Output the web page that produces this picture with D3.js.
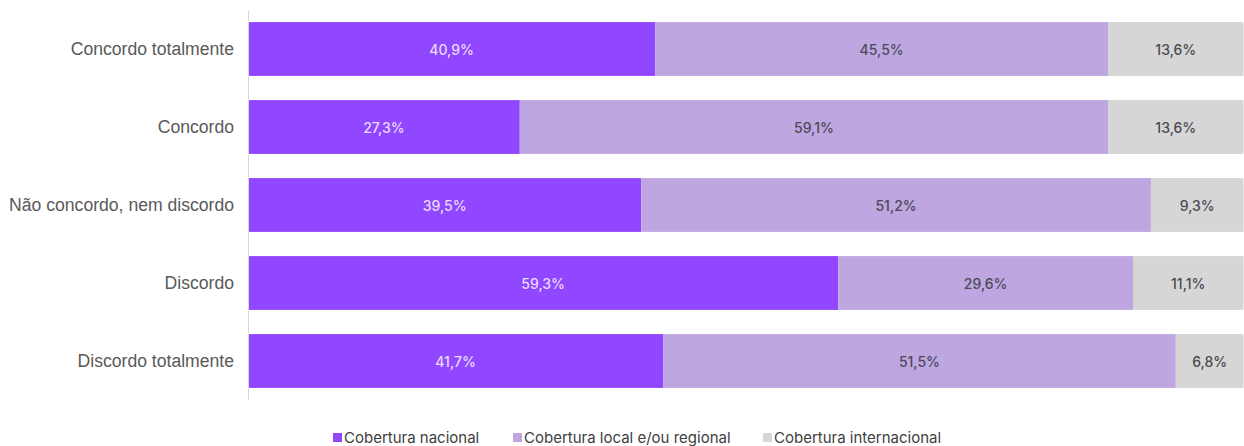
<!DOCTYPE html>
<html><head><meta charset="utf-8">
<script src="https://cdn.jsdelivr.net/npm/d3@7"></script>
<style>body{margin:0;background:#fff;}svg{display:block;}</style>
</head><body>
<svg id="c" width="1244" height="446"></svg>
<script>
const categories = ["Concordo totalmente","Concordo","Não concordo, nem discordo","Discordo","Discordo totalmente"];
const seriesNames = ["Cobertura nacional","Cobertura local e/ou regional","Cobertura internacional"];
const nacional = [40.9, 27.3, 39.5, 59.3, 41.7];
const localRegional = [45.5, 59.1, 51.2, 29.6, 51.5];
const internacional = [13.6, 13.6, 9.3, 11.1, 6.8];
const colors = ["#9146FF","#BEA6E0","#D6D6D6"];
const textColors = ["#EADCFF","#4A4A58","#4A4A52"];

const svg = d3.select("#c");
const x = d3.scaleLinear().domain([0,100]).range([248,1243.5]);
const y = d3.scaleBand().domain(categories).range([10,400]).paddingInner(0.31).paddingOuter(0.155);

const stackData = categories.map((c,i)=>({cat:c, s0:nacional[i], s1:localRegional[i], s2:internacional[i]}));
const stack = d3.stack().keys(["s0","s1","s2"])(stackData);

stack.forEach((layer,k)=>{
  const g = svg.append("g");
  g.selectAll("rect").data(layer).enter().append("rect")
    .attr("x", d=>x(d[0])).attr("width", d=>x(d[1])-x(d[0]))
    .attr("y", d=>y(d.data.cat)).attr("height", y.bandwidth())
    .attr("fill", colors[k]);
  g.selectAll("text").data(layer).enter().append("text")
    .attr("x", d=>(x(d[0])+x(d[1]))/2).attr("y", d=>y(d.data.cat)+y.bandwidth()/2)
    .attr("text-anchor","middle").attr("dominant-baseline","central")
    .attr("font-family","Inter, 'Noto Sans', sans-serif").attr("font-size",14).attr("font-weight",500)
    .attr("fill", textColors[k])
    .text(d=>(d[1]-d[0]).toFixed(1).replace(".",",")+"%");
});

const yAxis = d3.axisLeft(y).tickSize(0).tickPadding(14);
const ag = svg.append("g").attr("transform","translate(248,0)").call(yAxis);
ag.select(".domain").attr("stroke","#D9D9D9").attr("stroke-width",1);
ag.selectAll("text").attr("font-family","'Liberation Sans', Arial, sans-serif").attr("font-size",17.6).attr("fill","#595959");

const legendX = [333, 513, 763];
const lg = svg.append("g");
seriesNames.forEach((n,i)=>{
  lg.append("rect").attr("x",legendX[i]).attr("y",433).attr("width",9).attr("height",9).attr("fill",colors[i]);
  lg.append("text").attr("x",legendX[i]+11).attr("y",437).attr("dominant-baseline","central")
    .attr("font-family","Inter, 'Noto Sans', sans-serif").attr("font-size",15).attr("fill","#404040").text(n);
});
</script>
</body></html>
